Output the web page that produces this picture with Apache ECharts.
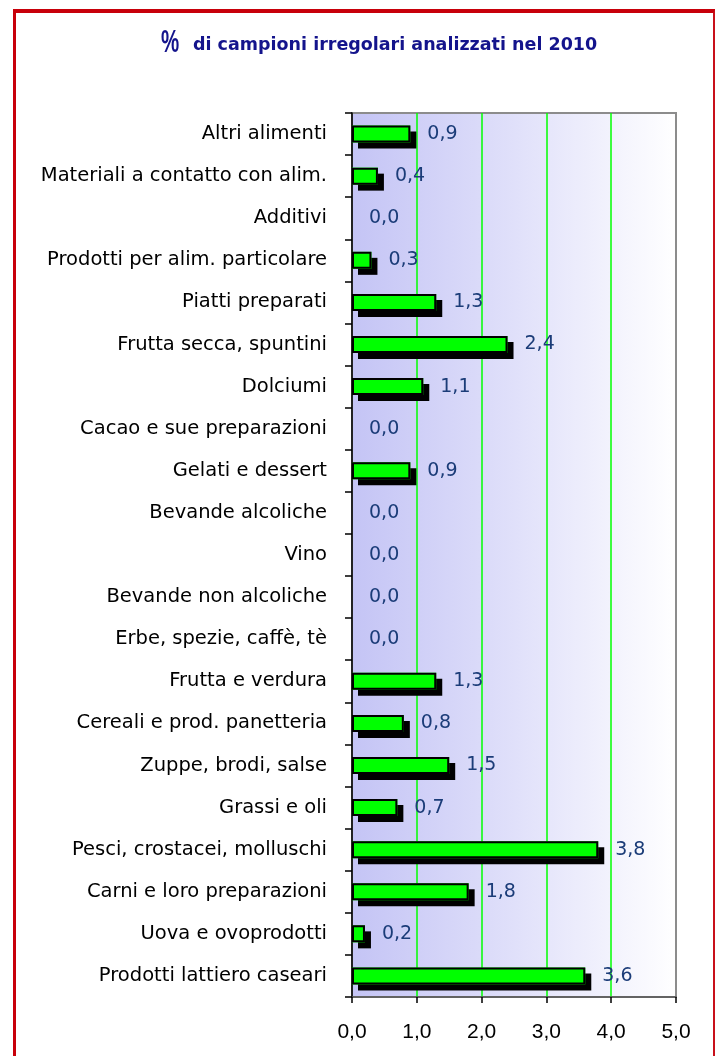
<!DOCTYPE html>
<html>
<head>
<meta charset="utf-8">
<script src="https://cdn.jsdelivr.net/npm/echarts@6/dist/echarts.min.js"></script>
<style>
  html, body { margin: 0; padding: 0; background: #ffffff; }
  #chart { position: absolute; left: 0; top: 0; width: 716px; height: 1056px; }
  #frame {
    position: absolute; left: 13px; top: 9px; width: 697px; height: 1100px;
    border-left: 3px solid #C8000A; border-top: 4px solid #C8000A; border-right: 2px solid #C8101A;
    pointer-events: none;
  }
</style>
</head>
<body>
<div id="chart"></div>
<div id="frame"></div>
<script>
// Food categories, top to bottom
const categories = [
  'Altri alimenti',
  'Materiali a contatto con alim.',
  'Additivi',
  'Prodotti per alim. particolare',
  'Piatti preparati',
  'Frutta secca, spuntini',
  'Dolciumi',
  'Cacao e sue preparazioni',
  'Gelati e dessert',
  'Bevande alcoliche',
  'Vino',
  'Bevande non alcoliche',
  'Erbe, spezie, caffè, tè',
  'Frutta e verdura',
  'Cereali e prod. panetteria',
  'Zuppe, brodi, salse',
  'Grassi e oli',
  'Pesci, crostacei, molluschi',
  'Carni e loro preparazioni',
  'Uova e ovoprodotti',
  'Prodotti lattiero caseari'
];

// % of irregular samples per category
const irregularPct = [0.9, 0.4, 0.0, 0.3, 1.3, 2.4, 1.1, 0.0, 0.9, 0.0, 0.0, 0.0, 0.0, 1.3, 0.8, 1.5, 0.7, 3.8, 1.8, 0.2, 3.6];

const titleMark = '%';
const titleText = 'di campioni irregolari analizzati nel 2010';

const xMin = 0, xMax = 5, xStep = 1;

const fmt = v => Number(v).toFixed(1).replace('.', ',');

const chart = echarts.init(document.getElementById('chart'), null, { renderer: 'canvas' });

// zero-height bars carry no fill, outline or shadow
const hidden = { borderWidth: 0, color: 'rgba(0,0,0,0)', shadowColor: 'rgba(0,0,0,0)' };
const fillData = irregularPct.map(v => v === 0 ? { value: v, itemStyle: hidden } : v);
const outlineData = irregularPct.map(v => v === 0 ? { value: v, itemStyle: { borderWidth: 0 } } : v);

chart.setOption({
  backgroundColor: '#ffffff',
  animation: false,
  graphic: [
    {
      // tall, narrow percent sign in front of the title
      type: 'text', x: 161, y: 28, scaleX: 0.66,
      style: { text: titleMark, fill: '#14148C', font: 'bold 31px "Liberation Sans", sans-serif' }
    },
    {
      type: 'text', left: 193, top: 36,
      style: { text: titleText, fill: '#14148C', font: 'bold 17.5px "DejaVu Sans", sans-serif' }
    }
  ],
  grid: {
    left: 352, top: 113, right: 40, bottom: 59,
    show: true,
    borderColor: '#8C8C8C',
    borderWidth: 2,
    backgroundColor: new echarts.graphic.LinearGradient(0, 0, 1, 0, [
      { offset: 0, color: '#C4C4F5' },
      { offset: 0.5, color: '#E0E0FA' },
      { offset: 1, color: '#FFFFFF' }
    ])
  },
  xAxis: {
    type: 'value',
    min: xMin, max: xMax, interval: xStep,
    axisLine: { show: true, lineStyle: { color: '#555555', width: 1.5 } },
    axisTick: { show: true, length: 6, lineStyle: { color: '#000000', width: 1.5 } },
    axisLabel: {
      margin: 25,
      formatter: fmt,
      color: '#000000',
      fontFamily: '"Liberation Sans", Arial, sans-serif',
      fontSize: 21
    },
    splitLine: {
      show: true,
      showMinLine: false,
      showMaxLine: false,
      lineStyle: { color: '#00FF00', width: 1.5 }
    }
  },
  yAxis: {
    type: 'category',
    inverse: true,
    data: categories,
    axisLine: { show: true, lineStyle: { color: '#000000', width: 1.5 } },
    axisTick: { show: true, length: 7, alignWithLabel: false, lineStyle: { color: '#000000', width: 1.5 } },
    axisLabel: {
      margin: 25,
      color: '#000000',
      fontFamily: '"DejaVu Sans", sans-serif',
      fontSize: 19.5
    },
    splitLine: { show: false }
  },
  series: [
    {
      // green fill with the solid drop shadow
      type: 'bar',
      data: fillData,
      barWidth: 17,
      barGap: '-100%',
      itemStyle: {
        color: '#00FF00',
        borderWidth: 0,
        shadowColor: '#000000',
        shadowBlur: 0,
        shadowOffsetX: 6,
        shadowOffsetY: 6
      },
      z: 2
    },
    {
      // black outline and value label on top
      type: 'bar',
      data: outlineData,
      barWidth: 17,
      barGap: '-100%',
      itemStyle: {
        color: 'rgba(0,0,0,0)',
        borderColor: '#000000',
        borderWidth: 2
      },
      label: {
        show: true,
        position: 'right',
        distance: 17,
        formatter: p => fmt(p.value),
        color: '#1B3C78',
        fontFamily: '"DejaVu Sans", sans-serif',
        fontSize: 19
      },
      z: 3
    }
  ]
});
</script>
</body>
</html>
